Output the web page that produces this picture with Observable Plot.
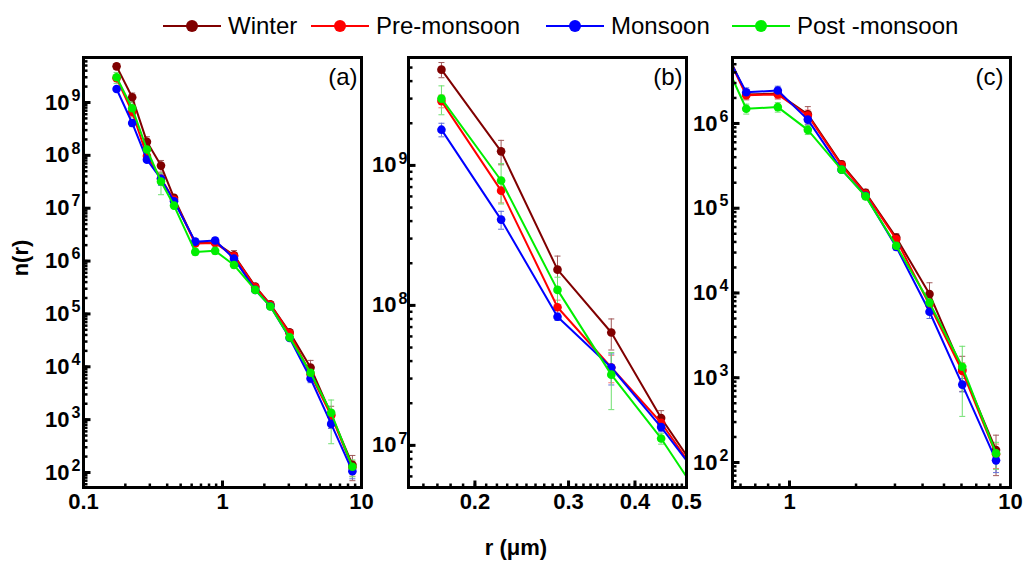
<!DOCTYPE html>
<html><head><meta charset="utf-8">
<script src="https://cdn.jsdelivr.net/npm/d3@7"></script>
<script src="https://cdn.jsdelivr.net/npm/@observablehq/plot@0.6"></script>
<style>
body{margin:0;background:#fff;}
#wrap{position:relative;width:1024px;height:561px;overflow:hidden;font-family:"Liberation Sans",Arial,sans-serif;background:#fff;}
#wrap svg.panel{position:absolute;top:0;overflow:visible;}
.leg{position:absolute;top:12px;display:flex;align-items:center;font-size:24px;color:#000;}
.leg span{margin-left:7px;}
.ttl{position:absolute;font-weight:bold;font-size:22px;color:#000;white-space:nowrap;}
</style></head><body><div id="wrap"></div>
<script>
// ---------- data ----------
const seasons = ["Winter", "Pre-monsoon", "Monsoon", "Post -monsoon"];
const seasonColors = ["#800000", "#ff0000", "#0000ff", "#00ee00"];
const errorColors = ["#a05a5a", "#ff7070", "#6070d8", "#70e070"];
const radius = [0.173, 0.224, 0.286, 0.361, 0.448, 0.637, 0.885, 1.21, 1.72, 2.21, 3.04, 4.3, 6.05, 8.6];
const winter = [4.83e9, 1.26e9, 1.8e8, 6.4e7, 1.57e7, 2.2e6, 2.25e6, 1.28e6, 3.3e5, 1.52e5, 4.5e4, 9.7e3, 1.24e3, 140];
const preMonsoon = [2.88e9, 6.6e8, 9.7e7, 3.6e7, 1.45e7, 2.15e6, 2.2e6, 1.24e6, 3.2e5, 1.48e5, 4.3e4, 7.2e3, 1.2e3, 125];
const monsoon = [1.8e9, 4.1e8, 8.3e7, 3.6e7, 1.35e7, 2.33e6, 2.45e6, 1.11e6, 2.85e5, 1.4e5, 3.5e4, 6.0e3, 830, 106];
const postMonsoon = [3.0e9, 7.8e8, 1.29e8, 3.2e7, 1.12e7, 1.49e6, 1.56e6, 8.4e5, 2.85e5, 1.38e5, 3.6e4, 7.7e3, 1.35e3, 128];
const winterErr = [0.6e9, 0.25e9, 0.45e8, 1.6e7, 0.2e7, 0.3e6, 0.3e6, 0.3e6, 0.3e5, 0.15e5, 0.5e4, 3.5e3, 550, 70];
const preMonsoonErr = [0.3e9, 1.2e8, 1.2e7, 0.8e7, 0.15e7, 0.2e6, 0.25e6, 0.2e6, 0.2e5, 0.1e5, 0.3e4, 1.2e3, 300, 40];
const monsoonErr = [0.2e9, 0.6e8, 0.5e7, 0.9e7, 0.1e7, 0.3e6, 0.3e6, 0.15e6, 0.2e5, 0.1e5, 0.3e4, 1.0e3, 150, 30];
const postMonsoonErr = [0.7e9, 2.5e8, 0.3e8, 1.4e7, 0.1e7, 0.2e6, 0.2e6, 0.1e6, 0.2e5, 0.1e5, 0.3e4, 1.5e3, 1000, 45];
const panelLabels = ["(a)", "(b)", "(c)"];
const xTicksA = [0.1, 1, 10], xTicksB = [0.2, 0.3, 0.4, 0.5], xTicksC = [1, 10];
const yTicksA = [1e2, 1e3, 1e4, 1e5, 1e6, 1e7, 1e8, 1e9];
const yTicksB = [1e7, 1e8, 1e9];
const yTicksC = [1e2, 1e3, 1e4, 1e5, 1e6];

const values = [winter, preMonsoon, monsoon, postMonsoon];
const errs = [winterErr, preMonsoonErr, monsoonErr, postMonsoonErr];
const rows = seasons.map((s, i) => radius.map((r, j) => ({season: s, r, n: values[i][j], err: errs[i][j]})));

// ---------- helpers ----------
function logMinor([lo, hi]) {
  const out = [];
  for (let e = Math.floor(Math.log10(lo)) - 1; e <= Math.ceil(Math.log10(hi)); e++)
    for (let k = 1; k <= 9; k++) { const v = k * Math.pow(10, e); if (v >= lo * 0.999 && v <= hi * 1.001) out.push(v); }
  return out;
}
const tickH = {draw(ctx, size) { const l = Math.sqrt(size / Math.PI); ctx.moveTo(0, 0); ctx.lineTo(l, 0); }};
const tickV = {draw(ctx, size) { const l = Math.sqrt(size / Math.PI); ctx.moveTo(0, 0); ctx.lineTo(0, -l); }};
const cap = {draw(ctx, size) { const l = Math.sqrt(size / Math.PI); ctx.moveTo(-l, 0); ctx.lineTo(l, 0); }};

function panel(cfg) {
  const {xDomain, yDomain, xTicks, yTicks, xMinor, yMinor, left, width, ml, mr, label, labelDx, yPad} = cfg;
  const marks = [];
  rows.forEach((data, i) => {
    marks.push(Plot.ruleX(data, {x: "r", y1: d => d.n - d.err, y2: d => d.n + d.err, stroke: errorColors[i], strokeWidth: 1, clip: true}));
    marks.push(Plot.dot(data, {x: "r", y: d => d.n + d.err, symbol: cap, r: 3, stroke: errorColors[i], strokeWidth: 1, fill: "none", clip: true}));
    marks.push(Plot.dot(data, {x: "r", y: d => d.n - d.err, symbol: cap, r: 3, stroke: errorColors[i], strokeWidth: 1, fill: "none", clip: true}));
  });
  rows.forEach((data, i) => {
    marks.push(Plot.line(data, {x: "r", y: "n", stroke: seasonColors[i], strokeWidth: 2, clip: true}));
    marks.push(Plot.dot(data, {x: "r", y: "n", fill: seasonColors[i], r: 4.3, clip: true}));
  });
  marks.push(Plot.dot(yMinor, {x: () => xDomain[0], y: d => d, symbol: tickH, r: 4, stroke: "black", strokeWidth: 2.5, fill: "none"}));
  marks.push(Plot.dot(yTicks.filter(v => v >= yDomain[0] && v <= yDomain[1]), {x: () => xDomain[0], y: d => d, symbol: tickH, r: 7, stroke: "black", strokeWidth: 3, fill: "none"}));
  marks.push(Plot.dot(xMinor, {x: d => d, y: () => yDomain[0], symbol: tickV, r: 4, stroke: "black", strokeWidth: 2.5, fill: "none"}));
  marks.push(Plot.dot(xTicks, {x: d => d, y: () => yDomain[0], symbol: tickV, r: 7, stroke: "black", strokeWidth: 3, fill: "none"}));
  marks.push(Plot.frame({stroke: "black", strokeWidth: 3}));
  marks.push(Plot.text([label], {frameAnchor: "top-right", dx: -labelDx, dy: 10, lineAnchor: "top", textAnchor: "end", fontSize: 24, fontWeight: "normal", fill: "black"}));
  const svg = Plot.plot({
    width, height: 520, marginTop: 57, marginBottom: 33, marginLeft: ml, marginRight: mr,
    style: {fontFamily: "'Liberation Sans', Arial, sans-serif", fontSize: "22px", fontWeight: "bold", background: "transparent", overflow: "visible", color: "black"},
    x: {type: "log", domain: xDomain, ticks: xTicks, tickFormat: d => String(+d.toFixed(2)), tickSize: 0, tickPadding: 6, label: null},
    y: {type: "log", domain: yDomain, ticks: yTicks, tickFormat: d => "10^" + Math.round(Math.log10(d)), tickSize: 0, tickPadding: yPad, label: null},
    marks
  });
  const ns = "http://www.w3.org/2000/svg";
  svg.querySelectorAll("text").forEach(t => {
    const m = /^10\^(\d+)$/.exec(t.textContent);
    if (m) {
      t.textContent = "";
      const a = document.createElementNS(ns, "tspan"); a.textContent = "10"; t.appendChild(a);
      const b = document.createElementNS(ns, "tspan"); b.textContent = m[1];
      b.setAttribute("dy", "-0.55em"); b.setAttribute("font-size", "16"); b.setAttribute("dx", "2");
      t.appendChild(b);
    }
  });
  svg.classList.add("panel");
  svg.style.left = left + "px";
  svg.style.position = "absolute";
  return svg;
}

const wrap = document.getElementById("wrap");
const xdA = [0.1, 10], ydA = [52, 7.1e9];
const xdB = [0.15, 0.5], ydB = [5.0e6, 5.9e9];
const xdC = [0.552, 10], ydC = [50.7, 6.0e6];
const minorB = d3.range(15, 51).map(k => k / 100);
wrap.appendChild(panel({xDomain: xdA, yDomain: ydA, xTicks: xTicksA, yTicks: yTicksA, xMinor: logMinor(xdA), yMinor: logMinor(ydA), left: 0, width: 371, ml: 83, mr: 10, label: panelLabels[0], labelDx: 4, yPad: 3}));
wrap.appendChild(panel({xDomain: xdB, yDomain: ydB, xTicks: xTicksB, yTicks: yTicksB, xMinor: minorB, yMinor: logMinor(ydB), left: 361, width: 335, ml: 47, mr: 10, label: panelLabels[1], labelDx: 4, yPad: 1}));
wrap.appendChild(panel({xDomain: xdC, yDomain: ydC, xTicks: xTicksC, yTicks: yTicksC, xMinor: logMinor(xdC), yMinor: logMinor(ydC), left: 690, width: 334, ml: 42, mr: 14, label: panelLabels[2], labelDx: 7, yPad: 4}));

// legend
const legLeft = [163, 311, 546, 732];
seasons.forEach((s, i) => {
  const d = document.createElement("div");
  d.className = "leg";
  d.style.left = legLeft[i] + "px";
  d.innerHTML = `<svg width="58" height="26"><line x1="0" x2="58" y1="13" y2="13" stroke="${seasonColors[i]}" stroke-width="2"/><circle cx="29" cy="13" r="6" fill="${seasonColors[i]}"/></svg><span>${s}</span>`;
  wrap.appendChild(d);
});
// axis titles
const yt = document.createElement("div");
yt.className = "ttl"; yt.textContent = "n(r)";
yt.style.left = "21px"; yt.style.top = "258px";
yt.style.transform = "translate(-50%,-50%) rotate(-90deg)";
wrap.appendChild(yt);
const xt = document.createElement("div");
xt.className = "ttl"; xt.textContent = "r (μm)";
xt.style.left = "516px"; xt.style.top = "548px";
xt.style.transform = "translate(-50%,-50%)";
wrap.appendChild(xt);
</script></body></html>
